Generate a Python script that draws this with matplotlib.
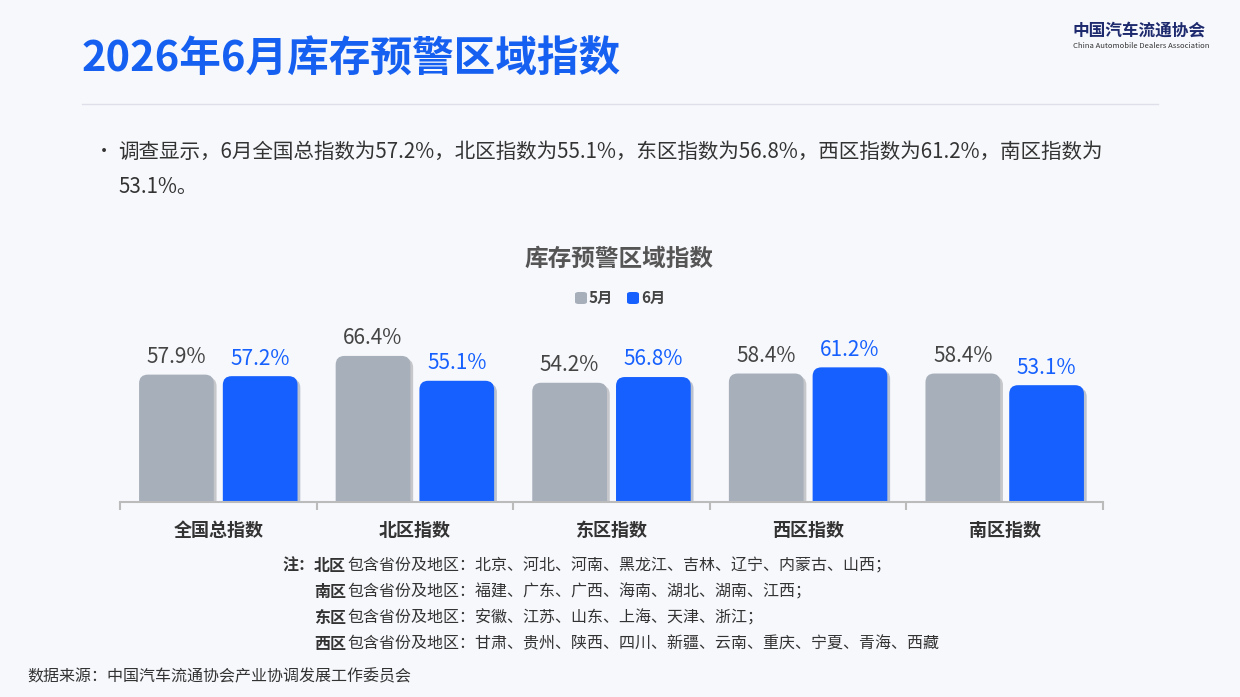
import matplotlib.pyplot as plt
from matplotlib.patches import FancyBboxPatch
import matplotlib.patheffects as pe

plt.rcParams['font.family'] = ['Noto Sans CJK SC', 'DejaVu Sans']

categories = ['全国总指数', '北区指数', '东区指数', '西区指数', '南区指数']
may_values = [57.9, 66.4, 54.2, 58.4, 58.4]
jun_values = [57.2, 55.1, 56.8, 61.2, 53.1]
series_names = ['5月', '6月']

gray = '#A7AFBA'
blue = '#1560FE'

fig = plt.figure(figsize=(12.4, 6.97), dpi=100)
fig.patch.set_facecolor('#F7F8FC')
W, H = 1240, 697

def fx(x):
    return x / W

def fy(y):
    return 1 - y / H

# header
fig.text(fx(82), fy(60), '2026年6月库存预警区域指数', fontsize=30, fontweight='bold',
         color='#1560F0', va='center')
fig.add_artist(plt.Line2D([fx(82), fx(1158)], [fy(104), fy(104)], color='#DDE0E8', lw=1))
fig.text(fx(1073), fy(31), '中国汽车流通协会', fontsize=12, fontweight='bold', color='#1E2A6E', va='center')
fig.text(fx(1073), fy(46), 'China Automobile Dealers Association', fontsize=5.5, color='#333', va='center')

fig.text(fx(95), fy(152), '•', fontsize=13, color='#333', va='center')
fig.text(fx(118), fy(152), '调查显示，6月全国总指数为57.2%，北区指数为55.1%，东区指数为56.8%，西区指数为61.2%，南区指数为',
         fontsize=14.8, color='#333', va='center')
fig.text(fx(118), fy(187), '53.1%。', fontsize=14.8, color='#333', va='center')

# chart title and legend
fig.text(fx(619), fy(259), '库存预警区域指数', fontsize=17, fontweight='bold', color='#555', ha='center', va='center')
for i, (name, c) in enumerate(zip(series_names, [gray, blue])):
    x0 = 575 + i * 52
    fig.patches.append(FancyBboxPatch((fx(x0), fy(304)), fx(12), 12 / H, boxstyle='round,pad=0,rounding_size=0.003',
                                      transform=fig.transFigure, fc=c, ec='none'))
    fig.text(fx(x0 + 14), fy(298), name, fontsize=11, fontweight='bold', color='#444', va='center')

ax = fig.add_axes([fx(120), fy(502), fx(983), 202 / H])
ax.set_facecolor('none')
ax.set_xlim(-0.5, len(categories) - 0.5)
ax.set_ylim(0, 202 / 2.2)

bw = 0.38
off = 0.213
xs = range(len(categories))
aspect = (202 / 2.2 / 202) / (5 / 983)
shadow = [pe.SimplePatchShadow(offset=(2, -2), alpha=0.25), pe.Normal()]
for vals, sign, c, tc in [(may_values, -1, gray, '#444'), (jun_values, 1, blue, blue)]:
    bars = ax.bar([x + sign * off for x in xs], vals, width=bw, color='none')
    for b, v in zip(bars, vals):
        p = FancyBboxPatch((b.get_x(), -10), b.get_width(), v + 10,
                           boxstyle='round,pad=0,rounding_size=0.045', mutation_aspect=aspect,
                           fc=c, ec='none', path_effects=shadow)
        ax.add_patch(p)
        ax.text(b.get_x() + b.get_width() / 2, v + 3, f'{v}%', ha='center', va='bottom',
                fontsize=15, color=tc)

for s in ['top', 'right', 'left']:
    ax.spines[s].set_visible(False)
ax.spines['bottom'].set_color('#BBBBBB')
ax.spines['bottom'].set_linewidth(1.5)
ax.set_yticks([])
ax.set_xticks([x - 0.5 for x in range(len(categories) + 1)], minor=True)
ax.tick_params(axis='x', which='minor', length=6, color='#BBBBBB', width=1.5)
ax.set_xticks(list(xs))
ax.set_xticklabels(categories, fontsize=13, fontweight='bold', color='#333')
ax.tick_params(axis='x', which='major', length=0, pad=14)

# notes
notes = [('注：', '北区', '包含省份及地区：北京、河北、河南、黑龙江、吉林、辽宁、内蒙古、山西；'),
         ('', '南区', '包含省份及地区：福建、广东、广西、海南、湖北、湖南、江西；'),
         ('', '东区', '包含省份及地区：安徽、江苏、山东、上海、天津、浙江；'),
         ('', '西区', '包含省份及地区：甘肃、贵州、陕西、四川、新疆、云南、重庆、宁夏、青海、西藏')]
for i, (pre, reg, rest) in enumerate(notes):
    y = fy(566 + i * 26)
    if pre:
        fig.text(fx(282), y, pre, fontsize=11.5, fontweight='bold', color='#333', va='center')
    fig.text(fx(314), y, reg, fontsize=11.5, fontweight='bold', color='#333', va='center')
    fig.text(fx(347), y, rest, fontsize=11.5, color='#333', va='center')

fig.text(fx(27), fy(677), '数据来源：中国汽车流通协会产业协调发展工作委员会', fontsize=11.5, color='#333', va='center')

fig.savefig('out.png', dpi=100, facecolor=fig.get_facecolor())
